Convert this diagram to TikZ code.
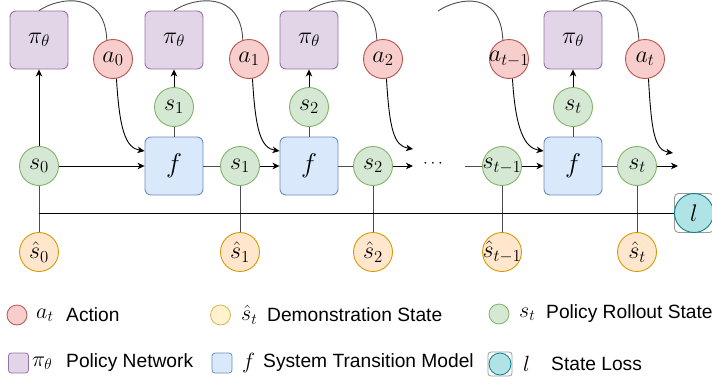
\RequirePackage{fix-cm}
\documentclass[tikz,border=0pt]{standalone}
\usepackage{fontspec}
\setmainfont{Liberation Sans}
\usetikzlibrary{arrows.meta}

\definecolor{actfill}{HTML}{F8CECC}\definecolor{actline}{HTML}{B85450}
\definecolor{polfill}{HTML}{E1D5E7}\definecolor{polline}{HTML}{9673A6}
\definecolor{rolfill}{HTML}{D5E8D4}\definecolor{rolline}{HTML}{82B366}
\definecolor{sysfill}{HTML}{DAE8FC}\definecolor{sysline}{HTML}{6C8EBF}
\definecolor{demfill}{HTML}{FFE6CC}\definecolor{demline}{HTML}{D79B00}
\definecolor{ldemfill}{HTML}{FFF2CC}\definecolor{ldemline}{HTML}{D6B656}
\definecolor{lossfill}{HTML}{B0E3E6}\definecolor{lossline}{HTML}{0E8088}
\definecolor{framegray}{HTML}{9A9A9A}
\definecolor{wire}{HTML}{4D4D4D}

\newcommand\nodemath[1]{\makebox[0pt]{$#1$}}

\begin{document}
\begin{tikzpicture}[x=1pt,y=-1pt,
  mth/.style={font=\fontsize{24}{27}\selectfont},
  circ/.style={circle, minimum size=39pt, inner sep=0pt, line width=0.9pt, mth},
  act/.style={circ, fill=actfill, draw=actline},
  rol/.style={circ, fill=rolfill, draw=rolline},
  dem/.style={circ, fill=demfill, draw=demline},
  sqbox/.style={rectangle, rounded corners=6pt, minimum width=58pt, minimum height=58pt,
                inner sep=0pt, line width=0.9pt, mth},
  polbox/.style={sqbox, fill=polfill, draw=polline},
  sysbox/.style={sqbox, fill=sysfill, draw=sysline, font=\fontsize{27}{30}\selectfont},
  lossframe/.style={rectangle, rounded corners=4pt, minimum size=39pt, inner sep=0pt,
                    draw=framegray, fill=white, line width=0.9pt},
  losscirc/.style={circ, fill=lossfill, draw=lossline},
  wireline/.style={draw=wire, line width=0.9pt},
  arr/.style={draw=black, line width=0.9pt, -{Stealth[length=7pt,width=6.5pt,inset=2pt]}},
  legtext/.style={font=\fontsize{19.2}{22}\selectfont, inner sep=0pt, anchor=west},
  legmath/.style={font=\fontsize{22}{24}\selectfont, inner sep=0pt, anchor=west},
  legmark/.style={minimum size=20pt, inner sep=0pt, line width=0.8pt},
]
\useasboundingbox (0,0) rectangle (712,381);

% policy networks
\node[polbox] (p1) at (39,40)  {\nodemath{\pi_\theta}};
\node[polbox] (p2) at (174,40) {\nodemath{\pi_\theta}};
\node[polbox] (p3) at (309,40) {\nodemath{\pi_\theta}};
\node[polbox] (p4) at (573,40) {\nodemath{\pi_\theta}};

% actions
\node[act] (a0) at (113,59) {\nodemath{a_0}};
\node[act] (a1) at (249,59) {\nodemath{a_1}};
\node[act] (a2) at (383,59) {\nodemath{a_2}};
\node[act] (a3) at (509,59) {\nodemath{a_{t-1}}};
\node[act] (a4) at (645,59) {\nodemath{a_t}};

% states fed to the policy
\node[rol] (u1) at (174,107) {\nodemath{s_1}};
\node[rol] (u2) at (309,107) {\nodemath{s_2}};
\node[rol] (u4) at (573,107) {\nodemath{s_t}};

% transition models
\node[sysbox] (f1) at (174,166) {\nodemath{f}};
\node[sysbox] (f2) at (309,166) {\nodemath{f}};
\node[sysbox] (f4) at (573,166) {\nodemath{f}};

% rollout states
\node[rol] (s0) at (39,166)  {\nodemath{s_0}};
\node[rol] (s1) at (240,166) {\nodemath{s_1}};
\node[rol] (s2) at (373,166) {\nodemath{s_2}};
\node[rol] (s3) at (502,166) {\nodemath{s_{t-1}}};
\node[rol] (s4) at (637,166) {\nodemath{s_t}};
\node[font=\fontsize{17}{18}\selectfont] (dots) at (433,164) {$\cdots$};

% demonstration states
\node[dem] (d0) at (39,252)  {\nodemath{\hat{s}_0}};
\node[dem] (d1) at (240,252) {\nodemath{\hat{s}_1}};
\node[dem] (d2) at (373,252) {\nodemath{\hat{s}_2}};
\node[dem] (d3) at (502,252) {\nodemath{\hat{s}_{t-1}}};
\node[dem] (d4) at (637,252) {\nodemath{\hat{s}_t}};

% state loss
\node[lossframe] (lf) at (694,213) {};
\node[losscirc] (l) at (694,213) {\nodemath{l}};

% free ends
\coordinate (lossstart) at (39,213);
\coordinate (outa2) at (413,149);
\coordinate (outs2) at (413,166);
\coordinate (ins3) at (465,166);
\coordinate (outs4) at (678,166);
\coordinate (outa4) at (673,153);
\coordinate (topin) at (438,11);

% demonstration links and loss line
\draw[wireline] (s0) -- (d0);
\draw[wireline] (s1) -- (d1);
\draw[wireline] (s2) -- (d2);
\draw[wireline] (s3) -- (d3);
\draw[wireline] (s4) -- (d4);
\draw[draw=black, line width=0.9pt] (lossstart) -- (lf.west);

% rollout chain
\draw[arr] (s0) -- (p1);
\draw[arr] (s0) -- (f1);
\draw[wireline] (f1) -- (s1);
\draw[arr] (s1) -- (f2);
\draw[wireline] (f2) -- (s2);
\draw[arr] (s2) -- (outs2);
\draw[wireline] (ins3) -- (s3);
\draw[arr] (s3) -- (f4);
\draw[wireline] (f4) -- (s4);
\draw[arr] (s4) -- (outs4);

% policy inputs
\draw[wireline] (f1) -- (u1);
\draw[arr] (u1) -- (p2);
\draw[wireline] (f2) -- (u2);
\draw[arr] (u2) -- (p3);
\draw[wireline] (f4) -- (u4);
\draw[arr] (u4) -- (p4);

% policy outputs
\draw[wireline] (p1.north) .. controls +(21,-14) and +(-2,-49) .. (a0.108);
\draw[wireline] (p2.north) .. controls +(21,-14) and +(-2,-49) .. (a1.108);
\draw[wireline] (p3.north) .. controls +(21,-14) and +(-2,-49) .. (a2.108);
\draw[wireline] (topin) .. controls +(21,-14) and +(-2,-49) .. (a3.108);
\draw[wireline] (p4.north) .. controls +(21,-14) and +(-2,-49) .. (a4.108);

% actions into the transition models
\draw[arr] (a0.-80) .. controls +(3,51) and +(-19,-3) .. (f1.153);
\draw[arr] (a1.-80) .. controls +(3,51) and +(-19,-3) .. (f2.153);
\draw[arr] (a2.-80) .. controls +(3,51) and +(-19,-3) .. (outa2);
\draw[arr] (a3.-80) .. controls +(3,51) and +(-19,-3) .. (f4.153);
\draw[arr] (a4.-80) .. controls +(3,51) and +(-19,-3) .. (outa4);

% legend, first row
\node[legmark, circle, fill=actfill, draw=actline] (ka) at (17,315) {};
\node[legmath] (kam) at (36,315) {$a_t$};
\node[legtext] (kat) at (66,315) {Action};
\node[legmark, circle, fill=ldemfill, draw=ldemline] (kd) at (220.5,315) {};
\node[legmath] (kdm) at (241,315) {$\hat{s}_t$};
\node[legtext] (kdt) at (267,315) {Demonstration State};
\node[legmark, circle, fill=rolfill, draw=rolline] (kr) at (499,314) {};
\node[legmath] (krm) at (519,314) {$s_t$};
\node[legtext] (krt) at (546,314) {Policy Rollout State};

% legend, second row
\node[legmark, rectangle, rounded corners=3pt, fill=polfill, draw=polline] (kp) at (18.5,363) {};
\node[legmath] (kpm) at (32,363) {$\pi_\theta$};
\node[legtext] (kpt) at (66,363) {Policy Network};
\node[legmark, rectangle, rounded corners=3pt, fill=sysfill, draw=sysline] (ks) at (222,363) {};
\node[legmath] (ksm) at (242,363) {$f$};
\node[legtext] (kst) at (263,363) {System Transition Model};
\node[legmark, rectangle, rounded corners=3pt, minimum size=24pt, fill=white, draw=framegray] (kl) at (500,364) {};
\node[legmark, circle, minimum size=22pt, fill=lossfill, draw=lossline] (klc) at (500,364) {};
\node[legmath] (klm) at (523,364) {$l$};
\node[legtext] (klt) at (551,364) {State Loss};
\end{tikzpicture}
\end{document}
